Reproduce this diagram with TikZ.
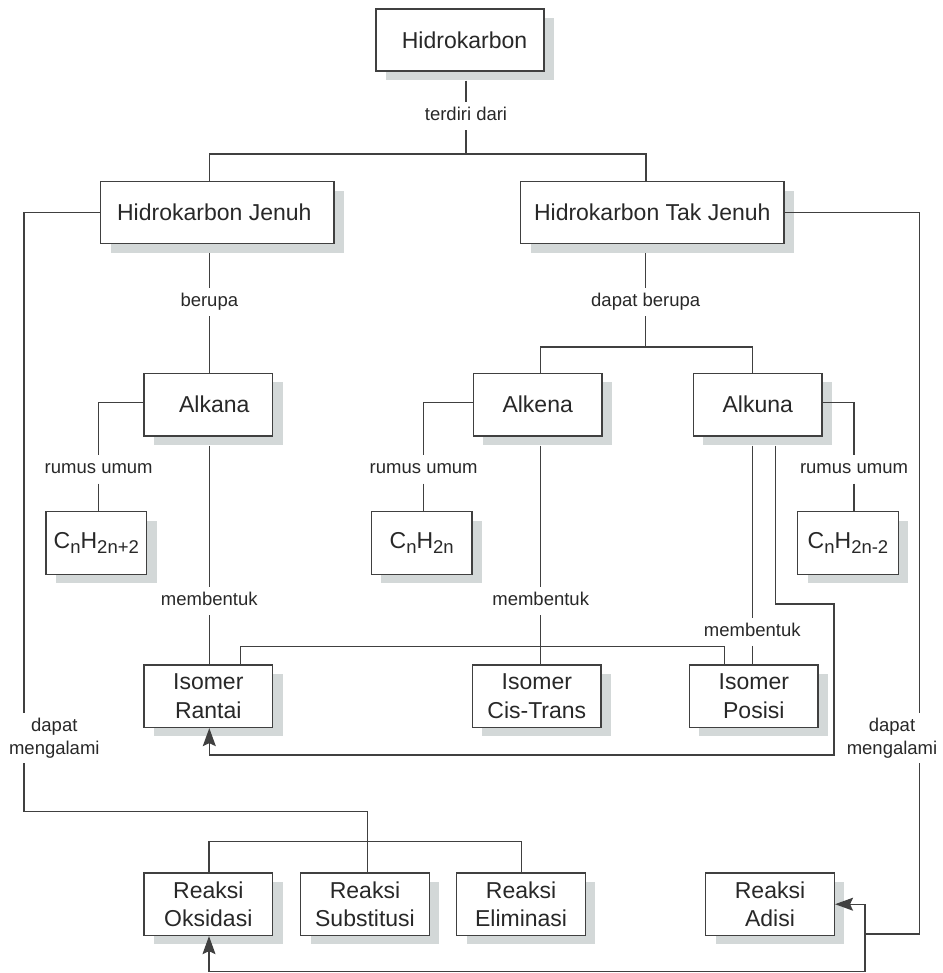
\documentclass[tikz,border=0pt]{standalone}
\usepackage{fontspec}
\setmainfont{Liberation Sans}
\usetikzlibrary{shadows,arrows.meta}
\definecolor{linec}{RGB}{64,64,64}
\definecolor{textc}{RGB}{40,40,40}
\definecolor{shadc}{RGB}{211,216,216}
\newcommand\sbs[1]{\raisebox{-5pt}{\fontsize{18.5}{18.5}\selectfont #1}}
\begin{document}
\begin{tikzpicture}[x=1pt,y=-1pt,
  box/.style={draw=linec, line width=1.4pt, fill=white, text=textc, inner sep=0pt, align=center,
     font=\fontsize{23}{28.3}\selectfont,
     drop shadow={shadow xshift=10pt, shadow yshift=-9pt, fill=shadc, opacity=1}},
  wide/.style={minimum width=#1, minimum height=62pt},
  std/.style={minimum width=128.7pt, minimum height=62.5pt},
  frm/.style={minimum width=100.7pt, minimum height=62.6pt},
  lbl/.style={inner sep=0pt, text=textc, font=\fontsize{18.5}{22.7}\selectfont,
     text height=13pt, text depth=4pt, minimum height=28pt},
  lbltwo/.style={inner sep=0pt, text=textc, font=\fontsize{18.5}{22.7}\selectfont, align=center},
  conn/.style={draw=linec, line width=1.2pt},
  tipstyle/.tip={Stealth[length=18pt,width=13pt,inset=3pt]},
  arr/.style={conn, -tipstyle}
]
\useasboundingbox (0,0) rectangle (942,973);

% boxes
\node[box, wide=168pt] (hk) at (460,40) {\hspace*{9pt}Hidrokarbon};
\node[box, wide=233.3pt] (hj) at (217.3,212.7) {\hspace*{-6pt}Hidrokarbon Jenuh};
\node[box, wide=263.3pt] (htj) at (652.3,212.7) {Hidrokarbon Tak Jenuh};
\node[box, std] (alkana) at (208.3,404.7) {\hspace*{12pt}Alkana};
\node[box, std] (alkena) at (537.7,404.7) {Alkena};
\node[box, std] (alkuna) at (757.8,404.7) {Alkuna};
\node[box, frm] (f1) at (96.3,543) {C\sbs{n}H\sbs{2n+2}};
\node[box, frm] (f2) at (421.7,543) {C\sbs{n}H\sbs{2n}};
\node[box, frm] (f3) at (848,543) {C\sbs{n}H\sbs{2n-2}};
\node[box, std] (ir) at (208.3,696.2) {Isomer\\Rantai};
\node[box, std] (ic) at (536.8,696.2) {Isomer\\Cis-Trans};
\node[box, std] (ip) at (753.8,696.2) {Isomer\\Posisi};
\node[box, std] (ro) at (208.3,904.2) {Reaksi\\Oksidasi};
\node[box, std] (rs) at (365,904.2) {Reaksi\\Substitusi};
\node[box, std] (re) at (521.1,904.2) {Reaksi\\Eliminasi};
\node[box, std] (ra) at (770,904.2) {Reaksi\\Adisi};

% labels
\node[lbl] (tdd) at (466,116.2) {terdiri dari};
\node[lbl] (ber) at (209.3,302.2) {berupa};
\node[lbl] (dber) at (645.7,302.2) {dapat berupa};
\node[lbl] (ruL) at (98.7,469.3) {rumus umum};
\node[lbl] (ruM) at (423.7,469.3) {rumus umum};
\node[lbl] (ruR) at (854,469.3) {rumus umum};
\node[lbl] (mbL) at (209.3,601.2) {membentuk};
\node[lbl] (mbM) at (540.7,601.2) {membentuk};
\node[lbl] (mbR) at (752.3,631.7) {membentuk};
\node[lbltwo] (dmL) at (54.3,738.3) {dapat\\mengalami};
\node[lbltwo] (dmR) at (892,738.3) {dapat\\mengalami};

% connectors
\draw[conn] ([xshift=6pt,yshift=-9pt]hk.south) -- (tdd.north);
\draw[conn] (tdd.south) -- (466,154);
\draw[conn] (209.3,0 |- hj.north) |- (646,154) -- (646,0 |- htj.north);

\draw[conn] ([xshift=-8pt,yshift=-9pt]hj.south) -- (ber.north);
\draw[conn] (ber.south) -- (ber.south |- alkana.north);
\draw[conn] ([xshift=-6.6pt,yshift=-9pt]htj.south) -- (dber.north);
\draw[conn] (dber.south) -- (645.7,347);
\draw[conn] (540.7,0 |- alkena.north) |- (752.3,347) -- (752.3,0 |- alkuna.north);

\draw[conn] ([yshift=2pt]alkana.west) -| (ruL.north);
\draw[conn] (ruL.south) -- (ruL.south |- f1.north);
\draw[conn] ([yshift=2pt]alkena.west) -| (ruM.north);
\draw[conn] (ruM.south) -- (ruM.south |- f2.north);
\draw[conn] ([yshift=2pt]alkuna.east) -| (ruR.north);
\draw[conn] (ruR.south) -- (ruR.south |- f3.north);

\draw[conn] ([xshift=1pt,yshift=-9pt]alkana.south) -- (mbL.north);
\draw[conn] (mbL.south) -- (mbL.south |- ir.north);
\draw[conn] ([xshift=3pt,yshift=-9pt]alkena.south) -- (mbM.north);
\draw[conn] (mbM.south) -- (mbM.south |- ic.north);
\draw[conn] ([xshift=-5.5pt,yshift=-9pt]alkuna.south) -- (mbR.north);
\draw[conn] (mbR.south) -- (mbR.south |- ip.north);
\draw[conn] (240.7,0 |- ir.north) |- (724.5,646.7) -- (724.5,0 |- ip.north);

\draw[arr] ([xshift=18pt,yshift=-9pt]alkuna.south) |- (834,604) -- (834,755) -| ([xshift=1pt]ir.south);

\draw[conn] (hj.west) -| (24,713.3);
\draw[conn] (24,763.3) |- (367.7,811.7) -- (367.7,0 |- rs.north);
\draw[conn] (209,0 |- ro.north) |- (521.7,841.7) -- (521.7,0 |- re.north);

\draw[conn] (htj.east) -| (919.5,713.3);
\draw[conn] (919.5,763.3) |- (865,934);
\draw[arr] (865,934.6) |- (ra.east);
\draw[arr] (865,933.4) -- (865,971.5) -| ([xshift=0.7pt]ro.south);
\end{tikzpicture}
\end{document}
